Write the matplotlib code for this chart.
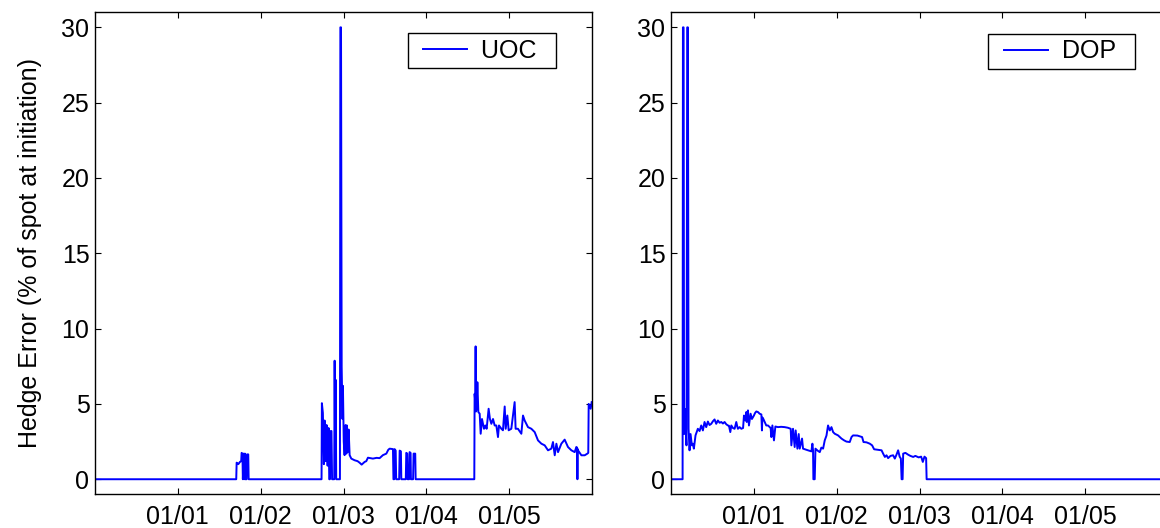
import matplotlib
matplotlib.use('Agg')
import matplotlib.pyplot as plt
from matplotlib.legend_handler import HandlerLine2D

plt.rcParams['font.family'] = ['Liberation Sans', 'DejaVu Sans']

FONT_SIZE = 18
LINE_COLOR = '#0000ff'

# x axis is in months from the start of the window, ticks at month starts
tick_pos = [1, 2, 3, 4, 5]
tick_labels = ['01/01', '01/02', '01/03', '01/04', '01/05']
y_ticks = [0, 5, 10, 15, 20, 25, 30]

# UOC hedge error (% of spot at initiation)
uoc_t = [0.0, 1.705, 1.71, 1.73, 1.75, 1.765, 1.77, 1.78, 1.785, 1.795, 1.80, 1.81,
         1.815, 1.83, 1.835, 1.85, 1.855,
         2.735, 2.739, 2.751, 2.763, 2.772, 2.784, 2.796, 2.808, 2.820, 2.828, 2.836,
         2.845, 2.855, 2.862, 2.888, 2.893, 2.899, 2.905, 2.912, 2.957, 2.962, 2.970,
         2.978, 2.988, 2.993, 3.003, 3.013, 3.025, 3.035, 3.041, 3.050, 3.062, 3.074,
         3.094, 3.134, 3.170, 3.194, 3.219, 3.255, 3.275, 3.295, 3.355, 3.400, 3.436,
         3.476, 3.517, 3.540, 3.557, 3.597, 3.603, 3.612, 3.617, 3.630, 3.636, 3.672,
         3.678, 3.693, 3.698, 3.752, 3.758, 3.770, 3.774, 3.792, 3.798, 3.810, 3.814,
         3.840, 3.846, 3.866, 3.871,
         4.579, 4.583, 4.590, 4.595, 4.600, 4.607, 4.616, 4.628, 4.644, 4.656, 4.672,
         4.696, 4.712, 4.728, 4.752, 4.768, 4.785, 4.805, 4.825, 4.845, 4.865, 4.877,
         4.906, 4.925, 4.946, 4.958, 4.978, 4.994, 5.026, 5.066, 5.078, 5.106, 5.147,
         5.167, 5.187, 5.227, 5.268, 5.308, 5.348, 5.389, 5.429, 5.469, 5.509, 5.529,
         5.550, 5.570, 5.590, 5.630, 5.670, 5.710, 5.751, 5.791, 5.811, 5.820, 5.824,
         5.828, 5.831, 5.872, 5.912, 5.944, 5.955, 5.960, 5.984, 5.996]
uoc_v = [0.0, 0.0, 1.1, 1.0, 1.15, 1.2, 1.75, 1.7, 0.0, 1.7, 0.0, 1.7,
         0.0, 0.0, 1.65, 1.65, 0.0,
         0.0, 5.05, 4.4, 1.0, 3.9, 1.2, 3.6, 0.9, 3.4, 0.0, 0.0,
         3.2, 3.2, 0.0, 0.0, 7.87, 1.5, 6.6, 0.0, 0.0, 30.0, 30.0,
         7.45, 4.0, 6.2, 2.5, 1.6, 3.6, 1.7, 3.57, 1.8, 3.3, 1.6,
         1.37, 1.26, 1.2, 1.1, 0.97, 1.15, 1.2, 1.43, 1.37, 1.42, 1.4,
         1.6, 1.7, 1.95, 2.03, 2.0, 0.0, 0.0, 2.0, 1.9, 0.0, 0.0,
         1.9, 1.85, 0.0, 0.0, 1.75, 1.7, 0.0, 0.0, 1.8, 1.75, 0.0,
         0.0, 1.7, 1.7, 0.0,
         0.0, 5.67, 5.2, 8.82, 4.5, 4.68, 6.44, 4.46, 4.35, 3.02, 4.0,
         3.35, 3.57, 3.35, 4.68, 4.0, 3.68, 4.0, 3.57, 3.57, 2.8, 3.57,
         3.35, 3.25, 4.83, 3.35, 4.23, 3.25, 3.35, 5.12, 3.35, 3.35, 3.02,
         4.23, 3.9, 3.46, 3.35, 3.13, 2.58, 2.36, 2.25, 1.92, 2.03, 2.47,
         1.59, 2.36, 1.8, 2.36, 2.63, 2.14, 1.92, 1.8, 2.14, 2.1, 0.0,
         2.0, 1.92, 1.59, 1.59, 1.7, 1.75, 5.0, 4.68, 5.12]

# DOP hedge error (% of spot at initiation)
dop_t = [0.0, 0.140, 0.144, 0.152, 0.158, 0.165, 0.178, 0.187, 0.196, 0.204, 0.212,
         0.224, 0.236, 0.252, 0.264, 0.276, 0.296, 0.324, 0.345, 0.365, 0.385, 0.405,
         0.425, 0.445, 0.465, 0.486, 0.506, 0.526, 0.546, 0.566, 0.587, 0.607, 0.627,
         0.647, 0.667, 0.687, 0.700, 0.716, 0.728, 0.748, 0.768, 0.788, 0.800, 0.808,
         0.828, 0.849, 0.870, 0.881, 0.897, 0.909, 0.915, 0.929, 0.941, 0.961, 0.977,
         1.001, 1.015, 1.030, 1.050, 1.070, 1.091, 1.098, 1.103, 1.115, 1.131, 1.150,
         1.171, 1.203, 1.211, 1.224, 1.243, 1.260, 1.291, 1.330, 1.372, 1.410, 1.445,
         1.453, 1.473, 1.493, 1.505, 1.526, 1.542, 1.554, 1.582, 1.594, 1.620, 1.654,
         1.695, 1.707, 1.715, 1.719, 1.735, 1.744, 1.770, 1.796, 1.815, 1.836, 1.856,
         1.877, 1.896, 1.917, 1.937, 1.957, 1.977, 2.017, 2.058, 2.090, 2.118, 2.158,
         2.179, 2.198, 2.250, 2.307, 2.324, 2.360, 2.400, 2.428, 2.452, 2.500, 2.542,
         2.561, 2.582, 2.602, 2.621, 2.650, 2.682, 2.702, 2.720, 2.742, 2.760, 2.775,
         2.784, 2.796, 2.803, 2.830, 2.863, 2.890, 2.924, 2.950, 2.990, 3.020, 3.040,
         3.060, 3.080, 3.086, 6.0]
dop_v = [0.0, 0.0, 30.0, 30.0, 3.0, 4.68, 3.2, 2.25, 30.0, 30.0, 3.35,
         1.92, 3.0, 2.25, 2.36, 2.03, 2.91, 3.35, 3.2, 3.57, 3.24, 3.8,
         3.46, 3.83, 3.6, 3.68, 3.85, 3.97, 3.68, 3.9, 3.75, 3.8, 3.7,
         3.8, 3.65, 3.57, 3.55, 3.13, 3.57, 3.4, 3.35, 3.8, 3.5, 3.35,
         3.46, 3.35, 3.4, 4.23, 3.9, 4.46, 3.8, 4.57, 3.57, 4.35, 4.0,
         4.23, 4.4, 4.5, 4.46, 4.35, 4.3, 3.24, 4.1, 4.0, 3.8, 3.57,
         3.57, 3.4, 2.8, 3.57, 2.58, 3.5, 3.46, 3.48, 3.46, 3.42, 3.35,
         2.25, 3.35, 2.14, 3.24, 2.03, 3.0, 2.03, 2.7, 2.03, 1.98, 1.92,
         1.85, 2.36, 1.9, 0.0, 0.0, 2.03, 1.9, 1.8, 2.1, 2.03, 2.58,
         2.9, 3.57, 3.24, 3.46, 3.13, 3.02, 2.91, 2.7, 2.58, 2.5, 2.47,
         2.8, 2.91, 2.9, 2.8, 2.47, 2.45, 2.36, 2.25, 1.99, 1.95, 1.92,
         1.7, 1.48, 1.59, 1.4, 1.55, 1.59, 1.37, 1.6, 1.92, 1.5, 1.37,
         0.0, 0.0, 1.7, 1.75, 1.63, 1.55, 1.48, 1.55, 1.45, 1.5, 1.15,
         1.5, 1.4, 0.0, 0.0]


def style_axes(ax):
    ax.set_xlim(0, 6)
    ax.set_ylim(-1, 31)
    ax.set_xticks(tick_pos)
    ax.set_xticklabels(tick_labels)
    ax.set_yticks(y_ticks)
    ax.tick_params(direction='in', length=4, width=0.8, top=True, right=True,
                   labelsize=FONT_SIZE, colors='black')
    ax.tick_params(axis='x', pad=8)
    ax.tick_params(axis='y', pad=4)
    for s in ax.spines.values():
        s.set_linewidth(1.0)
        s.set_color('black')


def add_legend(ax, line, label, anchor):
    leg = ax.legend([line], [label], loc='upper right', bbox_to_anchor=anchor,
                    borderaxespad=0, fontsize=FONT_SIZE, fancybox=False, shadow=False,
                    framealpha=1, edgecolor='black', borderpad=0.22, numpoints=2,
                    handlelength=2.56, handletextpad=0.16,
                    handler_map={line: HandlerLine2D(marker_pad=0.4)})
    leg.get_frame().set_linewidth(1.0)


fig = plt.figure(figsize=(11.6, 5.28), dpi=100)
fig.patch.set_facecolor('white')

ax1 = fig.add_axes([95 / 1160, 33.7 / 528, 497 / 1160, 482 / 528])
ax2 = fig.add_axes([671 / 1160, 33.7 / 528, 497 / 1160, 482 / 528])

l1, = ax1.plot(uoc_t, uoc_v, color=LINE_COLOR, linewidth=1.4)
style_axes(ax1)
ax1.set_ylabel('Hedge Error (% of spot at initiation)', fontsize=FONT_SIZE, labelpad=14)
add_legend(ax1, l1, 'UOC  ', (0.928, 0.957))

l2, = ax2.plot(dop_t, dop_v, color=LINE_COLOR, linewidth=1.4)
style_axes(ax2)
add_legend(ax2, l2, 'DOP  ', (0.933, 0.955))

fig.savefig('out.png', dpi=100, facecolor='white')
